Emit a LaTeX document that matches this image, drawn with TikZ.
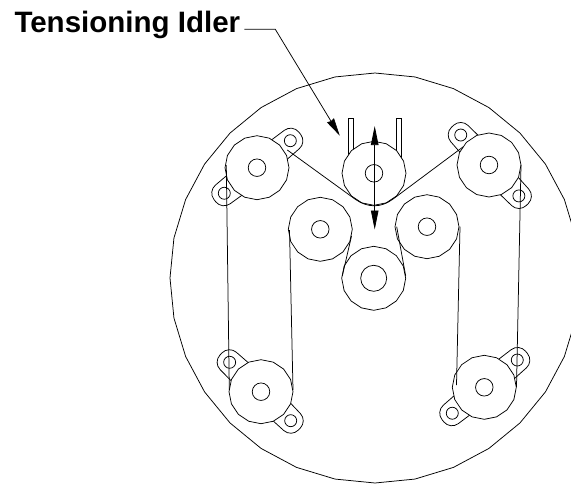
\documentclass[tikz,border=0pt]{standalone}
\usepackage{fontspec}
\setmainfont{Liberation Sans}
\usetikzlibrary{shapes.geometric,arrows.meta}
\tikzset{
  line/.style={line width=0.75pt,black},
  disc/.style={regular polygon,regular polygon sides=16,minimum size=64pt,inner sep=0pt,outer sep=0pt,draw,fill=white,line width=0.75pt,shape border rotate=11.25},
  hub/.style={circle,minimum size=17.5pt,inner sep=0pt,outer sep=0pt,draw,line width=0.75pt},
  bighub/.style={circle,minimum size=26pt,inner sep=0pt,outer sep=0pt,draw,line width=0.75pt},
  hole/.style={circle,minimum size=12pt,inner sep=0pt,outer sep=0pt,draw,line width=0.75pt},
}
\newcommand{\lugtab}[3]{%
  \begin{scope}[shift={(#1)},rotate=#2]
    \draw[line,fill=white,rounded corners=10pt] (14,13) -- (#3+12,11.5) -- (#3+12,-11.5) -- (14,-13) -- cycle;
    \node[hole] at (#3,0) {};
  \end{scope}}
\begin{document}
\begin{tikzpicture}[x=1pt,y=-1pt]
\useasboundingbox (0,0) rectangle (571,483);
\clip (0,0) rectangle (571,483);
% housing
\node[regular polygon,regular polygon sides=32,minimum size=410pt,inner sep=0pt,outer sep=0pt,draw,line width=0.75pt,shape border rotate=5.625] (housing) at (375,278) {};
% centres
\coordinate (tlc) at (257,167.7);
\coordinate (trc) at (489,165);
\coordinate (blc) at (261,391.7);
\coordinate (brc) at (484.3,387.3);
% lugs
\lugtab{tlc}{39}{42.9}
\lugtab{tlc}{218}{41.5}
\lugtab{trc}{133.3}{41.2}
\lugtab{trc}{-46}{43}
\lugtab{blc}{136.8}{43}
\lugtab{blc}{-44.3}{41.5}
\lugtab{brc}{39.6}{42.8}
\lugtab{brc}{219}{41.2}
% idler guides
\draw[line] (348.3,165) -- (348.3,118) -- (353.3,118) -- (353.3,165);
\draw[line] (396.7,165) -- (396.7,118) -- (401.7,118) -- (401.7,165);
% pulleys
\node[disc] (tl) at (tlc) {}; \node[hub] at (tl.center) {};
\node[disc] (tr) at (trc) {}; \node[hub] at (tr.center) {};
\node[disc] (bl) at (blc) {}; \node[hub] at (bl.center) {};
\node[disc] (br) at (brc) {}; \node[hub] at (br.center) {};
\node[disc] (idler) at (374,173.3) {}; \node[hub] at (idler.center) {};
\node[disc] (ml) at (320.3,229.3) {}; \node[hub] at (ml.center) {};
\node[disc] (mr) at (427,226.7) {}; \node[hub] at (mr.center) {};
\node[disc] (mb) at (373.7,278.3) {}; \node[bighub] at (mb.center) {};
% belt
\coordinate (b1) at (287.3,150);
\coordinate (b2) at (355.6,199.5);
\coordinate (b3) at (463.3,146.7);
\draw[line] (b1) -- (b2) .. controls (368,208) and (381,208) .. (393.1,199) -- (b3);
\draw[line] (226.3,165) -- (229.3,390);
\draw[line] (289.5,230) -- (293,390);
\draw[line] (351.5,236) -- (342.3,276);
\draw[line] (396.7,226.7) -- (405.7,276);
\draw[line] (460,226.7) -- (456.5,385);
\draw[line] (521,165) -- (516.5,387);
% double arrow
\coordinate (up) at (374.7,126);
\coordinate (dn) at (374.7,229.5);
\draw[line,{Stealth[length=19pt,width=7.5pt,inset=0pt]}-{Stealth[length=19pt,width=7.5pt,inset=0pt]}] (up) -- (dn);
% label
\node[anchor=base west,inner sep=0pt,font=\fontsize{29.5}{32}\selectfont\bfseries] (label) at (14.3,32.3) {Tensioning Idler};
\coordinate (lbend) at (275.3,29.3);
\coordinate (ltip) at (339.8,135.7);
\coordinate (lstart) at (244.3,29.3);
\draw[line,-{Stealth[length=18pt,width=8pt,inset=1pt]}] (lstart) -- (lbend) -- (ltip);
\end{tikzpicture}
\end{document}
